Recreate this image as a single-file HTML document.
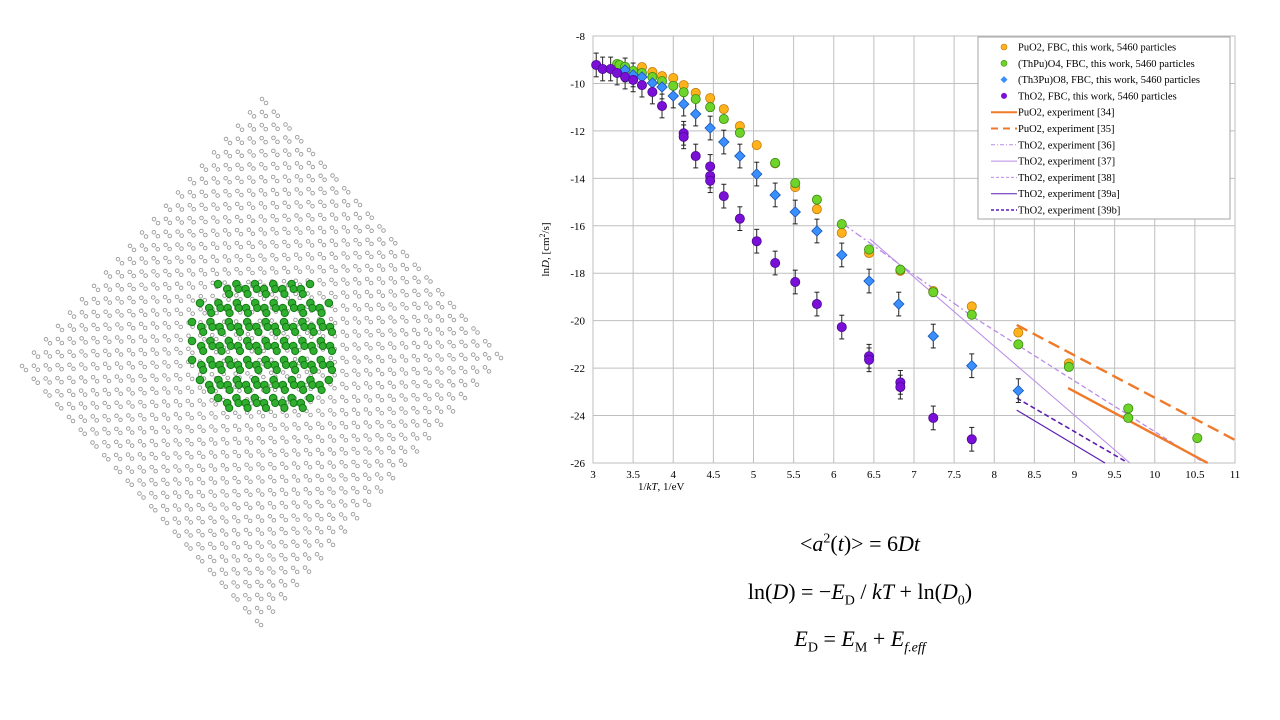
<!DOCTYPE html>
<html><head><meta charset="utf-8"><style>
html,body{margin:0;padding:0;background:#fff;}
body{width:1280px;height:720px;overflow:hidden;position:relative;font-family:"Liberation Serif",serif;}
.eq{position:absolute;left:600px;width:520px;text-align:center;font-size:22px;color:#000;}
</style></head><body>
<svg id="lattice" width="520" height="640" style="position:absolute;left:0;top:0"></svg>
<svg id="chart" width="720" height="500" style="position:absolute;left:530px;top:20px;overflow:visible"></svg>
<div class="eq" style="top:531px">&lt;<i>a</i><sup style="font-size:14px">2</sup>(<i>t</i>)&gt; = 6<i>Dt</i></div>
<div class="eq" style="top:579px">ln(<i>D</i>) = −<i>E</i><sub style="font-size:14px">D</sub> / <i>kT</i> + ln(<i>D</i><sub style="font-size:14px">0</sub>)</div>
<div class="eq" style="top:626px"><i>E</i><sub style="font-size:14px">D</sub> = <i>E</i><sub style="font-size:14px">M</sub> + <i>E<sub style="font-size:14px">f.eff</sub></i></div>
<script>
// ---- chart data ----
const puX=[3.61,3.74,3.86,4.0,4.13,4.28,4.46,4.63,4.83,5.04,5.27,5.52,5.79,6.1,6.44,6.83,7.24,7.72,8.3,8.93];
const puY=[-9.31,-9.52,-9.69,-9.77,-10.07,-10.4,-10.62,-11.08,-11.8,-12.6,-13.37,-14.37,-15.3,-16.3,-17.15,-17.9,-18.75,-19.4,-20.5,-21.8];
const thpuX=[3.3,3.33,3.4,3.5,3.61,3.74,3.86,4.0,4.13,4.28,4.46,4.63,4.83,5.27,5.52,5.79,6.1,6.44,6.83,7.24,7.72,8.3,8.93,9.67,9.67,10.53];
const thpuY=[-9.18,-9.22,-9.3,-9.47,-9.56,-9.73,-9.9,-10.1,-10.37,-10.66,-11.0,-11.5,-12.08,-13.35,-14.2,-14.9,-15.93,-17.0,-17.85,-18.8,-19.75,-21.0,-21.95,-23.7,-24.1,-24.95];
const th3X=[3.4,3.5,3.61,3.74,3.86,4.0,4.13,4.28,4.46,4.63,4.83,5.04,5.27,5.52,5.79,6.1,6.44,6.81,7.24,7.72,8.3];
const th3Y=[-9.43,-9.64,-9.73,-9.98,-10.15,-10.53,-10.87,-11.29,-11.88,-12.47,-13.06,-13.82,-14.7,-15.42,-16.22,-17.23,-18.33,-19.3,-20.65,-21.9,-22.95];
const thX=[3.04,3.12,3.22,3.3,3.4,3.5,3.61,3.74,3.86,4.13,4.13,4.28,4.46,4.46,4.46,4.63,4.83,5.04,5.27,5.52,5.79,6.1,6.44,6.44,6.83,6.83,7.24,7.72];
const thY=[-9.22,-9.39,-9.39,-9.56,-9.73,-9.85,-10.07,-10.36,-10.95,-12.1,-12.25,-13.06,-13.5,-13.9,-14.1,-14.75,-15.7,-16.65,-17.57,-18.37,-19.3,-20.27,-21.5,-21.65,-22.6,-22.8,-24.1,-25.0];
const errTh=0.5, errTh3=0.5, errThPu=0.45;
const xTicks=[3,3.5,4,4.5,5,5.5,6,6.5,7,7.5,8,8.5,9,9.5,10,10.5,11];
const yTicks=[-8,-10,-12,-14,-16,-18,-20,-22,-24,-26];
const exp34=[[8.92,-22.84],[10.66,-26]];
const exp35=[[8.28,-20.18],[11,-25.03]];
const exp36=[[6.12,-15.93],[7.74,-19.85]];
const exp37=[[6.45,-16.56],[9.69,-26]];
const exp38=[[7.74,-19.85],[10.6,-25.96]];
const exp39a=[[8.28,-23.77],[9.38,-26]];
const exp39b=[[8.28,-23.26],[9.65,-25.96]];
const legendLabels=["PuO2, FBC, this work, 5460 particles","(ThPu)O4, FBC, this work, 5460 particles","(Th3Pu)O8, FBC, this work, 5460 particles","ThO2, FBC, this work, 5460 particles","PuO2, experiment [34]","PuO2, experiment [35]","ThO2, experiment [36]","ThO2, experiment [37]","ThO2, experiment [38]","ThO2, experiment [39a]","ThO2, experiment [39b]"];

const NS="http://www.w3.org/2000/svg";
const svg=document.getElementById('chart');
const OX=530,OY=20;
const X0=593-OX,X1=1235-OX,Y0=36-OY,Y1=463-OY;
const sx=v=>X0+(v-3)/8*(X1-X0);
const sy=v=>Y0+(-8-v)/18*(Y1-Y0);
function mk(tag,attrs,parent){const e=document.createElementNS(NS,tag);for(const k in attrs)e.setAttribute(k,attrs[k]);(parent||svg).appendChild(e);return e;}
// grid
xTicks.forEach(t=>{
  const l=mk('line',{x1:sx(t),x2:sx(t),y1:Y0,y2:Y1,stroke:'#bfbfbf','stroke-width':1});
  
  
  const tx=mk('text',{x:sx(t),y:Y1+15,'text-anchor':'middle','font-size':11,'font-family':'Liberation Serif, serif'});
  tx.textContent=String(t);
  
  
});
yTicks.forEach(t=>{
  const l=mk('line',{x1:X0,x2:X1,y1:sy(t),y2:sy(t),stroke:'#bfbfbf','stroke-width':1});
  
  
  const tx=mk('text',{x:X0-8,y:sy(t)+4,'text-anchor':'end','font-size':11,'font-family':'Liberation Serif, serif'});
  tx.textContent=String(t);
  
  
});
const frame=mk('rect',{x:X0,y:Y0,width:X1-X0,height:Y1-Y0,fill:'none',stroke:'#bfbfbf'});


const xl=mk('text',{x:sx(3.85),y:Y1+27,'text-anchor':'middle','font-size':11,'font-family':'Liberation Serif, serif'});
xl.innerHTML='1/<tspan font-style="italic">kT</tspan>, 1/eV';


const yl=mk('text',{transform:`translate(${549-OX},${sy(-17)}) rotate(-90)`,'text-anchor':'middle','font-size':11,'font-family':'Liberation Serif, serif'});
yl.innerHTML='ln<tspan font-style="italic">D</tspan>, [cm<tspan font-size="8" dy="-4">2</tspan><tspan dy="4">/s]</tspan>';


// lines
function drawLine(pts,color,w,dash,name){
  const l=mk('line',{x1:sx(pts[0][0]),y1:sy(pts[0][1]),x2:sx(pts[1][0]),y2:sy(pts[1][1]),stroke:color,'stroke-width':w,'stroke-dasharray':dash||'none'});
  
  
}
drawLine(exp36,'#b98be8',1.3,'7 3 2 3','line-exp36');
drawLine(exp37,'#b98be8',1,'','line-exp37');
drawLine(exp38,'#b98be8',1.3,'5 3','line-exp38');
drawLine(exp39a,'#5b1fb0',1.2,'','line-exp39a');
drawLine(exp39b,'#5b1fb0',1.6,'5 3','line-exp39b');
drawLine(exp34,'#f07a2a',2.4,'','line-exp34');
drawLine(exp35,'#f07a2a',2.4,'12 6','line-exp35');
// error bars
function errBars(xs,ys,e,name){
  xs.forEach((x,i)=>{
    const g=mk('g',{stroke:'#222','stroke-width':1});
    
    
    mk('line',{x1:sx(x),x2:sx(x),y1:sy(ys[i]+e),y2:sy(ys[i]-e)},g);
    mk('line',{x1:sx(x)-2.5,x2:sx(x)+2.5,y1:sy(ys[i]+e),y2:sy(ys[i]+e)},g);
    mk('line',{x1:sx(x)-2.5,x2:sx(x)+2.5,y1:sy(ys[i]-e),y2:sy(ys[i]-e)},g);
  });
}
errBars(thX,thY,errTh,'error-bar-tho2');
errBars(th3X,th3Y,errTh3,'error-bar-th3puo8');
function circles(xs,ys,fill,stroke,name){
  xs.forEach((x,i)=>{
    const c=mk('circle',{cx:sx(x),cy:sy(ys[i]),r:4.6,fill:fill,stroke:stroke,'stroke-width':0.8});
    
    
  });
}
function diamonds(xs,ys,fill,stroke,name){
  xs.forEach((x,i)=>{
    const cx=sx(x),cy=sy(ys[i]),r=5.2;
    const p=mk('polygon',{points:`${cx},${cy-r} ${cx+r},${cy} ${cx},${cy+r} ${cx-r},${cy}`,fill:fill,stroke:stroke,'stroke-width':0.8});
    
    
  });
}
circles(puX,puY,'#ffb21a','#c07a10','point-puo2');
circles(thpuX,thpuY,'#6fd42a','#3a8a10','point-thpuo4');
diamonds(th3X,th3Y,'#3a8fff','#1a55b0','point-th3puo8');
circles(thX,thY,'#7a10d8','#4a0890','point-tho2');
// legend
const LX=978-OX,LY=37-OY;
const lg=mk('g',{});


mk('rect',{x:LX,y:LY,width:252,height:182,fill:'#fff',stroke:'#a6a6a6'},lg);
legendLabels.forEach((lab,i)=>{
  const y=LY+10+i*16.3;
  const g=mk('g',{},lg);
  
  
  const cx=LX+26;
  if(i==0) mk('circle',{cx:cx,cy:y,r:3,fill:'#ffb21a',stroke:'#c07a10','stroke-width':0.6},g);
  if(i==1) mk('circle',{cx:cx,cy:y,r:3,fill:'#6fd42a',stroke:'#3a8a10','stroke-width':0.6},g);
  if(i==2) mk('polygon',{points:`${cx},${y-3.5} ${cx+3.5},${y} ${cx},${y+3.5} ${cx-3.5},${y}`,fill:'#3a8fff'},g);
  if(i==3) mk('circle',{cx:cx,cy:y,r:3,fill:'#7a10d8'},g);
  const st=[null,null,null,null,['#f07a2a',2,''],['#f07a2a',2,'7 5'],['#b98be8',1,'4 2 1 2'],['#b98be8',1,''],['#b98be8',1,'3 2'],['#5b1fb0',1,''],['#5b1fb0',1.5,'3 2']][i];
  if(st) mk('line',{x1:LX+13,x2:LX+39,y1:y,y2:y,stroke:st[0],'stroke-width':st[1],'stroke-dasharray':st[2]||'none'},g);
  const t=mk('text',{x:LX+40,y:y+3.5,'font-size':10.5,'font-family':'Liberation Serif, serif'},g);
  t.textContent=lab;
});

// ---- lattice illustration ----
const lat=document.getElementById('lattice');
const T=[262,95],L=[22,362],R=[497,350];
const N=20;
function addC(x,y,r,fill,stroke,name,w){
  const c=document.createElementNS(NS,'circle');
  c.setAttribute('cx',x);c.setAttribute('cy',y);c.setAttribute('r',r);
  c.setAttribute('fill',fill);c.setAttribute('stroke',stroke);c.setAttribute('stroke-width',w);
  
  
  lat.appendChild(c);
}
[[0,0],[0.5,0.5]].forEach(off=>{
  for(let a=0;a<=N;a++)for(let b=0;b<=N;b++){
    const aa=(a+off[0])/N,bb=(b+off[1])/N;
    if(aa>1||bb>1)continue;
    const x=T[0]+aa*(L[0]-T[0])+bb*(R[0]-T[0]);
    const y=T[1]+aa*(L[1]-T[1])+bb*(R[1]-T[1])+4;
    addC(x,y,1.8,'#fff','#9a9a9a','grey-particle',0.9);
    addC(x+4,y+4,1.8,'#fff','#9a9a9a','grey-particle',0.9);
  }
});
const rowsY=[284,303,322,341,360,380,398];
const rowsX=[[218,310],[200,330],[192,338],[192,338],[192,338],[200,330],[218,310]];
rowsY.forEach((ry,k)=>{
  for(let x=rowsX[k][0];x<=rowsX[k][1];x+=9.2){
    const idx=Math.round((x-rowsX[k][0])/9.2);
    const dy=idx%2?5:0;
    addC(x,ry+dy,3.8,'#2fae2f','#137a13','green-particle',1);
    if(x>rowsX[k][0]+4&&x<rowsX[k][1]-4) addC(x+2,ry+dy+5,3.6,'#2fae2f','#137a13','green-particle',1);
  }
});
</script>
</body></html>
